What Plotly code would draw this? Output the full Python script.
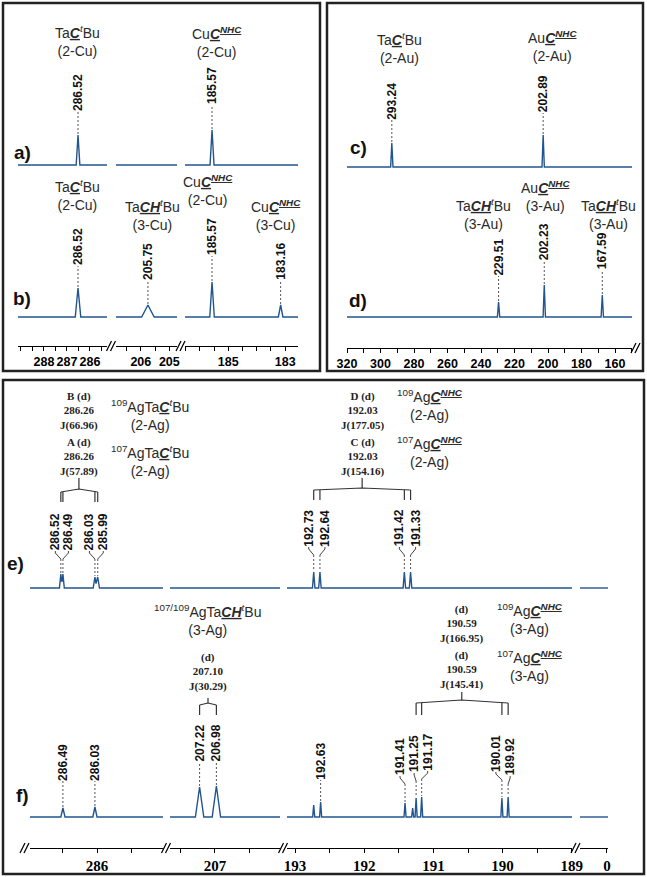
import plotly.graph_objects as go

W, H = 647, 877

# ---------------- data: chemical shift (ppm), relative intensity, line width (ppm) ----------------
cu_a_ppm = [286.52, 185.57]
cu_a_int = [30, 35]
cu_a_lw = [0.08, 0.07]

cu_b_ppm = [286.52, 205.75, 185.57, 183.16]
cu_b_int = [29, 12, 35, 12]
cu_b_lw = [0.12, 0.22, 0.08, 0.08]

au_c_ppm = [293.24, 202.89]
au_c_int = [24, 32]
au_c_lw = [0.7, 0.7]

au_d_ppm = [229.51, 202.23, 167.59]
au_d_int = [15, 32, 22]
au_d_lw = [0.7, 0.7, 0.7]

ag_e_ppm = [286.52, 286.49, 286.03, 285.99, 192.73, 192.64, 191.42, 191.33]
ag_e_int = [14, 14, 11, 11, 16, 16, 16, 16]
ag_e_lw = [0.02, 0.02, 0.025, 0.025, 0.018, 0.018, 0.018, 0.018]

ag_f_ppm = [286.49, 286.03, 207.22, 206.98, 192.73, 192.63, 191.41, 191.30, 191.25, 191.17, 190.01, 189.92]
ag_f_int = [9, 10, 30, 31, 12, 15, 14, 9, 19, 20, 19, 20]
ag_f_lw = [0.03, 0.03, 0.06, 0.06, 0.015, 0.015, 0.015, 0.015, 0.015, 0.015, 0.015, 0.015]

ag_e_dbl_name = ["B (d)", "A (d)", "D (d)", "C (d)"]
ag_e_dbl_center = [286.26, 286.26, 192.03, 192.03]
ag_e_dbl_J = [66.96, 57.89, 177.05, 154.16]
ag_e_dbl_pair = [(286.52, 285.99), (286.49, 286.03), (192.73, 191.33), (192.64, 191.42)]

ag_f_dbl_name = ["(d)", "(d)", "(d)"]
ag_f_dbl_center = [207.10, 190.59, 190.59]
ag_f_dbl_J = [30.29, 166.95, 145.41]
ag_f_dbl_pair = [(207.22, 206.98), (191.25, 189.92), (191.17, 190.01)]

cu_tick_labels = [[288, 287, 286], [206, 205], [185, 183]]
au_tick_labels = [320, 300, 280, 260, 240, 220, 200, 180, 160]
ag_tick_labels = [[286], [207], [193, 192, 191, 190, 189], [0]]

# ---------------- layout helpers ----------------
def PX(p):
    return p / W


def PY(p):
    return 1 - p / H


BLUE = '#22558f'
TXT = '#2a2a2a'
SANS = 'Liberation Sans, Arial, sans-serif'
SERIF = 'Liberation Serif, Times New Roman, serif'

# x axis segments: (id, domain px, range ppm)
cu_x = [('x', (18, 107), (289.13, 285.26)), ('x2', (116, 177), (206.87, 204.73)),
        ('x3', (185, 298), (186.52, 182.55))]
au_x = [('x4', (347, 632), (320.0, 149.85))]
ag_x = [('x5', (30, 163), (286.963, 285.052)), ('x6', (170, 280), (207.643, 206.071)),
        ('x7', (287, 572), (193.116, 188.997)), ('x8', (580, 608), (0.39, -0.015))]
AX = {a: (d, r) for a, d, r in cu_x + au_x + ag_x}


def scale(ax):
    d, r = AX[ax]
    return (d[1] - d[0]) / (r[0] - r[1])


def seg_of(segs, p):
    for a, d, r in segs:
        if min(r) <= p <= max(r):
            return a
    return None


def lkey(aid):
    return aid[0] + 'axis' + aid[1:]


layout = dict(template='none', width=W, height=H, autosize=False,
              margin=dict(l=0, r=0, t=0, b=0, pad=0),
              paper_bgcolor='white', plot_bgcolor='rgba(0,0,0,0)', showlegend=False)

tick_font_top = dict(family=SANS, size=12.5, color='black', weight='bold')
tick_font_bot = dict(family=SERIF, size=15, color='black', weight='bold')


def add_xaxes(segs, ypos, ticklists, font, minor):
    for (a, d, r), tv in zip(segs, ticklists):
        layout[lkey(a)] = dict(
            domain=[PX(d[0]), PX(d[1])], range=list(r), anchor='free', position=PY(ypos),
            automargin=False, tickangle=0,
            showline=True, linecolor='black', linewidth=1.2, ticks='outside', ticklen=4,
            tickwidth=1.1, tickcolor='black', tickmode='array', tickvals=tv,
            ticktext=[str(v) for v in tv], tickfont=font, showgrid=False, zeroline=False,
            fixedrange=True,
            minor=dict(tickmode='linear', tick0=0, dtick=minor, ticks='outside', ticklen=4,
                       tickwidth=1.1, tickcolor='black', showgrid=False))


add_xaxes(cu_x, 346, cu_tick_labels, tick_font_top, 0.5)
add_xaxes(au_x, 348, [au_tick_labels], tick_font_top, 10)
add_xaxes(ag_x, 848, ag_tick_labels, tick_font_bot, 0.5)

BASE = {'y': 165, 'y2': 317, 'y3': 167, 'y4': 317, 'y5': 588, 'y6': 817}
for a, b in BASE.items():
    layout[lkey(a)] = dict(domain=[PY(b + 6), PY(b - 135)], range=[-6, 135], anchor='free',
                           position=0, visible=False, fixedrange=True, automargin=False)

fig = go.Figure(layout=layout)

spectra = [
    (cu_x, 'y', cu_a_ppm, cu_a_int, cu_a_lw),
    (cu_x, 'y2', cu_b_ppm, cu_b_int, cu_b_lw),
    (au_x, 'y3', au_c_ppm, au_c_int, au_c_lw),
    (au_x, 'y4', au_d_ppm, au_d_int, au_d_lw),
    (ag_x, 'y5', ag_e_ppm, ag_e_int, ag_e_lw),
    (ag_x, 'y6', ag_f_ppm, ag_f_int, ag_f_lw),
]

for segs, ya, ppm, inten, lw in spectra:
    for a, d, r in segs:
        lo, hi = min(r), max(r)
        pts = {lo, hi}
        for p, w in zip(ppm, lw):
            if lo <= p <= hi:
                pts.update([p - w, p, p + w])
        xs = sorted(x for x in pts if lo <= x <= hi)
        ys = [sum(max(0.0, h * (1 - abs(x - p) / w)) for p, h, w in zip(ppm, inten, lw)) for x in xs]
        fig.add_trace(go.Scatter(x=xs, y=ys, xaxis=a, yaxis=ya, mode='lines',
                                 line=dict(color=BLUE, width=1.4), hoverinfo='skip'))

shapes = []
ann = []

# peak value labels: (label centre height above baseline, horizontal offset px)
LBL = {
    'y': {286.52: (72, 0), 185.57: (79, 0)},
    'y2': {286.52: (70, 0), 205.75: (56, 0), 185.57: (80, 0), 183.16: (56, 0)},
    'y3': {293.24: (66, 0), 202.89: (73, 0)},
    'y4': {229.51: (60, 0), 202.23: (75, 0), 167.59: (66, 0)},
    'y5': {286.52: (56, -5.5), 286.49: (56, 5.5), 286.03: (56, -5.5), 285.99: (56, 5.5),
           192.73: (60, -5), 192.64: (60, 5), 191.42: (60, -5), 191.33: (60, 5)},
    'y6': {286.49: (55, 0), 286.03: (55, 0), 207.22: (74, 0), 206.98: (74, 0), 192.63: (56, 0),
           191.41: (60, -5), 191.25: (63, -2), 191.17: (65, 6), 190.01: (64, -6), 189.92: (60, 2)},
}
HALF = 19
DASH = dict(color='#555', width=1, dash='2px,2px')
SOLID = dict(color='#444', width=1)

for segs, ya, ppm, inten, lw in spectra:
    for p, h in zip(ppm, inten):
        if p not in LBL[ya]:
            continue
        c, off = LBL[ya][p]
        a = seg_of(segs, p)
        lx = p - off / scale(a)
        ann.append(dict(xref=a, yref=ya, x=lx, y=c, text='<b>%.2f</b>' % p, textangle=-90,
                        showarrow=False, xanchor='center', yanchor='middle',
                        font=dict(family=SANS, size=12, color='#111')))
        if off == 0:
            shapes.append(dict(type='line', xref=a, yref=ya, x0=p, x1=p, y0=h + 1, y1=c - HALF,
                               line=DASH))
        else:
            b = c - HALF
            shapes.append(dict(type='path', xref=a, yref=ya,
                               path='M %f,%f L %f,%f L %f,%f' % (lx, b, lx, b - 2, p, b - 8),
                               line=SOLID))
            shapes.append(dict(type='line', xref=a, yref=ya, x0=p, x1=p, y0=b - 8, y1=h + 1,
                               line=DASH))

# doublet brackets: (tent height, apex height, stem top, vertical bottom)
BRK = {('y5', 286.26): (96, 99, 110, 86), ('y5', 192.03): (98, 100, 110, 88),
       ('y6', 207.10): (112, 114, 119, 102), ('y6', 190.59): (114, 117, 125, 102)}
DBL_Y = {'y5': [411, 457, 411, 457], 'y6': [672, 624, 670]}

for ya, names, centers, Js, pairs in [('y5', ag_e_dbl_name, ag_e_dbl_center, ag_e_dbl_J, ag_e_dbl_pair),
                                      ('y6', ag_f_dbl_name, ag_f_dbl_center, ag_f_dbl_J, ag_f_dbl_pair)]:
    for n, c, J, yy in zip(names, centers, Js, DBL_Y[ya]):
        a = seg_of(ag_x, c)
        ann.append(dict(xref=a, yref='paper', x=c, y=PY(yy), showarrow=False,
                        text='<b>%s<br>%.2f<br>J(%.2f)</b>' % (n, c, J), align='center',
                        xanchor='center', yanchor='middle',
                        font=dict(family=SERIF, size=11, color='#222')))
    groups = {}
    for c, pr in zip(centers, pairs):
        groups.setdefault(c, set()).update(pr)
    for c, peaks in groups.items():
        a = seg_of(ag_x, c)
        tent, apex, top, bot = BRK[(ya, c)]
        hi, lo = max(peaks), min(peaks)
        shapes.append(dict(type='path', xref=a, yref=ya,
                           path='M %f,%f L %f,%f L %f,%f' % (hi, tent, c, apex, lo, tent),
                           line=dict(color='#333', width=1.2)))
        shapes.append(dict(type='line', xref=a, yref=ya, x0=c, x1=c, y0=apex, y1=top,
                           line=dict(color='#333', width=1.2)))
        for p in peaks:
            shapes.append(dict(type='line', xref=a, yref=ya, x0=p, x1=p, y0=tent, y1=bot,
                               line=dict(color='#333', width=1.2)))

# compound labels
TAC = 'Ta<u><b><i>C</i></b></u><sup><i>t</i></sup>Bu'
TACH = 'Ta<u><b><i>CH</i></b></u><sup><i>t</i></sup>Bu'
CNHC = '<u><b><i>C</i></b><sup><b><i>NHC</i></b></sup></u>'
compound = [
    (77, 41, TAC + '<br>(2-Cu)'), (217, 42, 'Cu' + CNHC + '<br>(2-Cu)'),
    (77, 195, TAC + '<br>(2-Cu)'), (152, 215, TACH + '<br>(3-Cu)'),
    (208, 190, 'Cu' + CNHC + '<br>(2-Cu)'), (276, 215, 'Cu' + CNHC + '<br>(3-Cu)'),
    (399, 48, TAC + '<br>(2-Au)'), (552, 46, 'Au' + CNHC + '<br>(2-Au)'),
    (483, 214, TACH + '<br>(3-Au)'), (545, 196, 'Au' + CNHC + '<br>(3-Au)'),
    (608, 214, TACH + '<br>(3-Au)'),
    (150, 415, '<sup>109</sup>Ag' + TAC + '<br>(2-Ag)'),
    (150, 461, '<sup>107</sup>Ag' + TAC + '<br>(2-Ag)'),
    (430, 405, '<sup>109</sup>Ag' + CNHC + '<br>(2-Ag)'),
    (430, 452, '<sup>107</sup>Ag' + CNHC + '<br>(2-Ag)'),
    (207, 620, '<sup>107/109</sup>Ag' + TACH + '<br>(3-Ag)'),
    (530, 619, '<sup>109</sup>Ag' + CNHC + '<br>(3-Ag)'),
    (530, 666, '<sup>107</sup>Ag' + CNHC + '<br>(3-Ag)'),
]
for x, y, t in compound:
    ann.append(dict(xref='paper', yref='paper', x=PX(x), y=PY(y), text=t, showarrow=False,
                    align='center', xanchor='center', yanchor='middle',
                    font=dict(family=SANS, size=14, color=TXT)))

for x, y, t in [(22, 152, 'a)'), (22, 298, 'b)'), (358, 147, 'c)'), (358, 300, 'd)'),
                (15, 563, 'e)'), (22, 795, 'f)')]:
    ann.append(dict(xref='paper', yref='paper', x=PX(x), y=PY(y), text='<b>%s</b>' % t,
                    showarrow=False, xanchor='center', yanchor='middle',
                    font=dict(family=SANS, size=19, color='#111')))

# axis break marks
for x, y in [(111.5, 346), (181, 346), (636, 348), (25, 848), (166.5, 848), (283.5, 848), (576, 848)]:
    for dx in (-2.5, 1.5):
        shapes.append(dict(type='line', xref='paper', yref='paper',
                           x0=PX(x + dx - 2.5), y0=PY(y + 5), x1=PX(x + dx + 2.5), y1=PY(y - 5),
                           line=dict(color='black', width=1.2)))

# panel frames
for x0, y0, x1, y1 in [(3, 3, 320, 371), (327, 3, 643, 371), (3, 380, 644, 874)]:
    shapes.append(dict(type='rect', xref='paper', yref='paper', x0=PX(x0), y0=PY(y1),
                       x1=PX(x1), y1=PY(y0), line=dict(color='#222', width=2.5)))

fig.update_layout(shapes=shapes, annotations=ann)
fig.write_html('out.html', config={'displayModeBar': False},
               post_script="document.body.style.margin='0';document.body.style.overflow='hidden';")
